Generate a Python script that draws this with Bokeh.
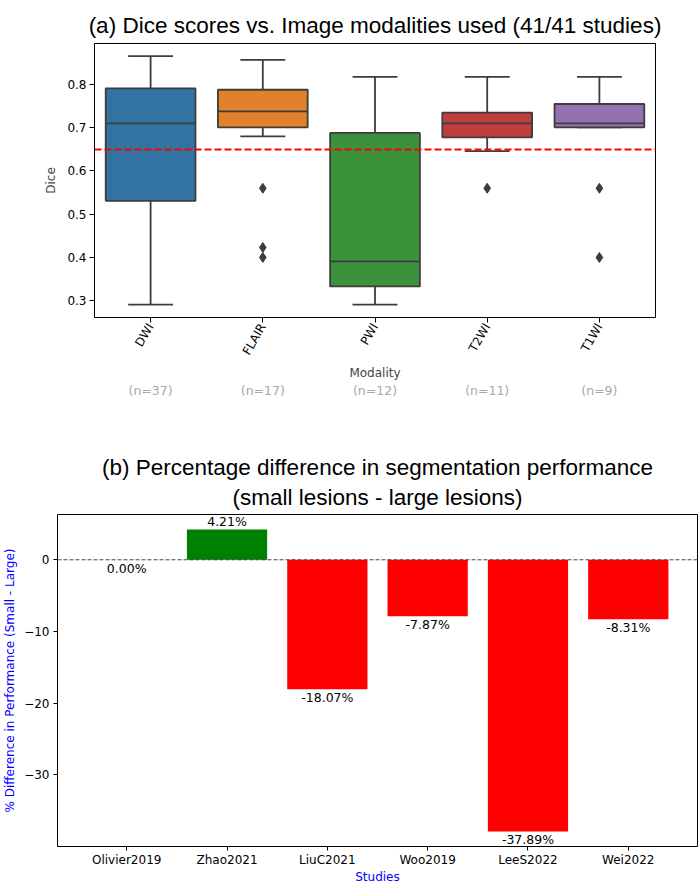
import math
from bokeh.plotting import figure
from bokeh.models import Range1d, FixedTicker, LinearAxis, Span, Title, ColumnDataSource
from bokeh.layouts import column
from bokeh.embed import file_html
from bokeh.resources import INLINE
from bokeh.core.properties import value

# ---------------- data (a) ----------------
modalities = ["DWI", "FLAIR", "PWI", "T2WI", "T1WI"]
n_counts = [37, 17, 12, 11, 9]
box_colors = ["#3274a1", "#e1812c", "#3a923a", "#c03d3e", "#9372b2"]
q1 = [0.531, 0.701, 0.333, 0.678, 0.701]
median = [0.710, 0.738, 0.391, 0.710, 0.710]
q3 = [0.791, 0.788, 0.688, 0.735, 0.755]
whisker_low = [0.291, 0.680, 0.291, 0.646, 0.701]
whisker_high = [0.866, 0.857, 0.818, 0.818, 0.818]
outlier_modality = ["FLAIR", "FLAIR", "FLAIR", "T2WI", "T1WI", "T1WI"]
outlier_dice = [0.560, 0.423, 0.400, 0.560, 0.560, 0.400]
dice_threshold = 0.65
dice_ticks = [0.3, 0.4, 0.5, 0.6, 0.7, 0.8]

# ---------------- data (b) ----------------
studies = ["Olivier2019", "Zhao2021", "LiuC2021", "Woo2019", "LeeS2022", "Wei2022"]
pct_diff = [0.00, 4.21, -18.07, -7.87, -37.89, -8.31]
pct_ticks = [-30, -20, -10, 0]

TITLE_FONT = "Liberation Sans"
FONT = "DejaVu Sans"
W = 699
H1 = 420
H2 = 466


def style_axes(p):
    p.xgrid.visible = False
    p.ygrid.visible = False
    p.outline_line_color = "black"
    p.outline_line_width = 1
    p.outline_line_alpha = 1
    p.background_fill_color = "white"
    p.border_fill_color = "white"
    for ax in (p.xaxis[0], p.yaxis[0]):
        ax.axis_line_color = None
        ax.minor_tick_line_color = None
        ax.major_tick_in = 0
        ax.major_tick_out = 5
        ax.major_tick_line_color = "black"
        ax.major_label_text_font = FONT
        ax.major_label_text_font_size = "12px"
        ax.major_label_text_color = "black"
        ax.axis_label_text_font = FONT
        ax.axis_label_text_font_size = "12px"
        ax.axis_label_text_font_style = "normal"


# ================= (a) box plot =================
xs = list(range(len(modalities)))
p1 = figure(width=W, height=H1, output_backend="svg", toolbar_location=None,
            x_range=Range1d(-0.5, len(modalities) - 0.5),
            y_range=Range1d(0.261, 0.895),
            min_border_left=94, min_border_right=44, min_border_top=43,
            min_border_bottom=H1 - 317, title=None)
p1.frame_align = False
style_axes(p1)

src = ColumnDataSource(dict(
    x=xs, q1=q1, med=median, q3=q3, lo=whisker_low, hi=whisker_high,
    color=box_colors,
    left=[x - 0.4 for x in xs], right=[x + 0.4 for x in xs],
    capl=[x - 0.2 for x in xs], capr=[x + 0.2 for x in xs],
))
EDGE = "#3d3d3d"
LW = 1.8
p1.segment(x0="x", y0="q3", x1="x", y1="hi", source=src, line_color=EDGE, line_width=LW)
p1.segment(x0="x", y0="q1", x1="x", y1="lo", source=src, line_color=EDGE, line_width=LW)
p1.segment(x0="capl", y0="hi", x1="capr", y1="hi", source=src, line_color=EDGE, line_width=LW)
p1.segment(x0="capl", y0="lo", x1="capr", y1="lo", source=src, line_color=EDGE, line_width=LW)
p1.vbar(x="x", width=0.8, top="q3", bottom="q1", source=src,
        fill_color="color", line_color=EDGE, line_width=LW)
p1.segment(x0="left", y0="med", x1="right", y1="med", source=src, line_color=EDGE, line_width=LW)
p1.scatter(x=[modalities.index(m) for m in outlier_modality], y=outlier_dice,
           marker="diamond", size=10, fill_color=EDGE, line_color=EDGE)

p1.add_layout(Span(location=dice_threshold, dimension="width", line_color="red",
                   line_dash="7 3", line_width=2))

p1.xaxis[0].ticker = FixedTicker(ticks=xs)
p1.xaxis[0].major_label_overrides = {i: m for i, m in zip(xs, modalities)}
p1.xaxis[0].major_label_orientation = math.pi / 3
p1.xaxis[0].major_label_standoff = 2
p1.xaxis[0].axis_label = "Modality"
p1.xaxis[0].axis_label_standoff = 2
p1.yaxis[0].ticker = FixedTicker(ticks=dice_ticks)
p1.yaxis[0].major_label_overrides = {t: f"{t:.1f}" for t in dice_ticks}
p1.yaxis[0].major_label_standoff = 3
p1.yaxis[0].axis_label = "Dice"
p1.yaxis[0].axis_label_standoff = 6

n_axis = LinearAxis(ticker=FixedTicker(ticks=xs),
                    major_label_overrides={i: f"(n={n})" for i, n in zip(xs, n_counts)})
n_axis.axis_line_color = None
n_axis.major_tick_line_color = None
n_axis.minor_tick_line_color = None
n_axis.major_tick_in = 0
n_axis.major_tick_out = 0
n_axis.major_label_standoff = 0
n_axis.major_label_text_font = FONT
n_axis.major_label_text_font_size = "12.5px"
n_axis.major_label_text_color = "#a8a8a8"
p1.add_layout(n_axis, "below")

p1.add_layout(Title(text="(a) Dice scores vs. Image modalities used (41/41 studies)",
                    align="center", text_font=TITLE_FONT, text_font_size="22.5px",
                    text_font_style="normal", text_color="black", standoff=12), "above")

# ================= (b) bar chart =================
bx = list(range(len(studies)))
p2 = figure(width=W, height=H2, output_backend="svg", toolbar_location=None,
            x_range=Range1d(-0.69, len(studies) - 0.31),
            y_range=Range1d(-39.995, 6.315),
            min_border_left=53, min_border_right=2, min_border_top=94,
            min_border_bottom=H2 - 428, title=None)
p2.frame_align = False
style_axes(p2)

bar_colors = ["green" if v > 0 else "red" for v in pct_diff]
p2.vbar(x=bx, top=pct_diff, bottom=0, width=0.8, fill_color=bar_colors, line_color=None)
p2.add_layout(Span(location=0, dimension="width", line_color="#333333",
                   line_dash="4 2", line_width=0.9))

pos_x = [x for x, v in zip(bx, pct_diff) if v > 0]
pos_y = [v for v in pct_diff if v > 0]
neg_x = [x for x, v in zip(bx, pct_diff) if v <= 0]
neg_y = [v for v in pct_diff if v <= 0]
p2.text(x=pos_x, y=pos_y, text=[f"{v:.2f}%" for v in pos_y], text_align="center",
        text_baseline="bottom", y_offset=-1, text_font=value(FONT),
        text_font_size="12.5px", text_color="black")
p2.text(x=neg_x, y=neg_y, text=[f"{v:.2f}%" for v in neg_y], text_align="center",
        text_baseline="top", y_offset=1, text_font=value(FONT),
        text_font_size="12.5px", text_color="black")

p2.xaxis[0].ticker = FixedTicker(ticks=bx)
p2.xaxis[0].major_label_overrides = {i: s for i, s in zip(bx, studies)}
p2.xaxis[0].major_label_standoff = 2
p2.xaxis[0].major_tick_out = 4
p2.xaxis[0].axis_label = "Studies"
p2.xaxis[0].axis_label_standoff = 0
p2.xaxis[0].axis_label_text_color = "blue"
p2.yaxis[0].ticker = FixedTicker(ticks=pct_ticks)
p2.yaxis[0].major_label_overrides = {t: (f"\u2212{abs(t)}" if t < 0 else f"{t}") for t in pct_ticks}
p2.yaxis[0].major_label_standoff = 4
p2.yaxis[0].major_tick_out = 4
p2.yaxis[0].axis_label = "% Difference in Performance (Small - Large)"
p2.yaxis[0].axis_label_standoff = 4
p2.yaxis[0].axis_label_text_color = "blue"

p2.add_layout(Title(text="(small lesions - large lesions)", align="center",
                    text_font=TITLE_FONT, text_font_size="22.5px", text_font_style="normal",
                    text_color="black", standoff=10), "above")
p2.add_layout(Title(text="(b) Percentage difference in segmentation performance", align="center",
                    text_font=TITLE_FONT, text_font_size="22.5px", text_font_style="normal",
                    text_color="black", standoff=-5), "above")

layout = column(p1, p2, spacing=0)
open("out.html", "w").write(file_html(layout, INLINE))
